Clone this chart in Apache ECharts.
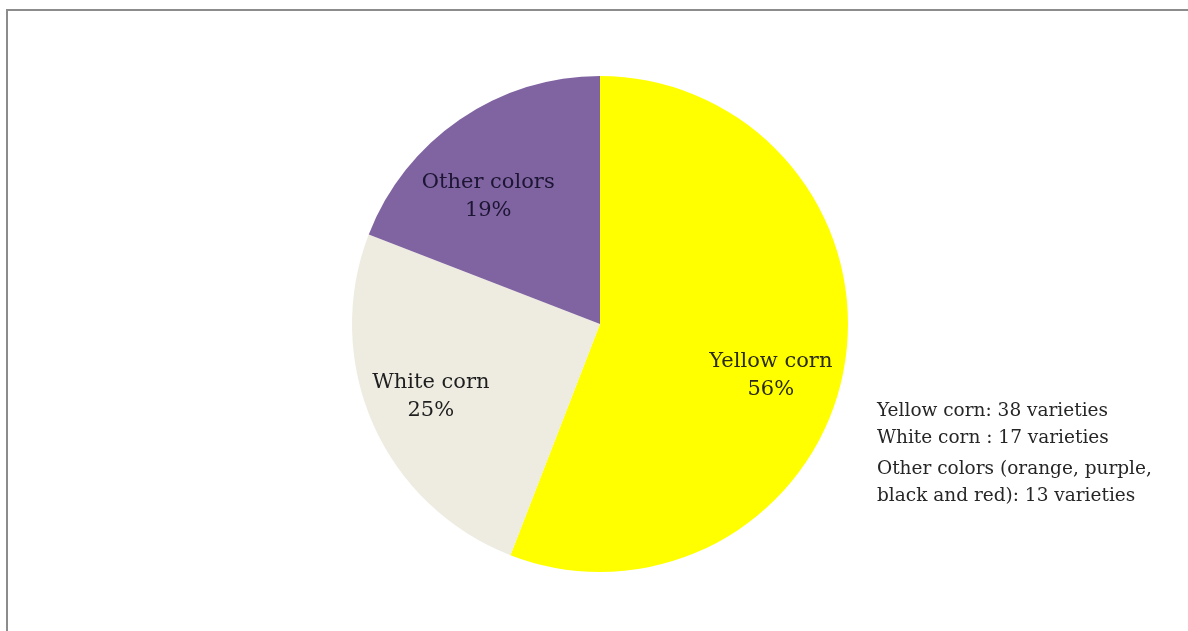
<!DOCTYPE html>
<html>
<head>
<meta charset="utf-8">
<script src="https://cdn.jsdelivr.net/npm/echarts@6/dist/echarts.min.js"></script>
<style>
  html, body { margin: 0; padding: 0; background: #ffffff; }
  #chart { width: 1188px; height: 631px; }
</style>
</head>
<body>
<div id="chart"></div>
<script>
// Corn varieties by kernel colour
const categories = ['Yellow corn', 'White corn', 'Other colors'];
const varieties = [38, 17, 13];
const sliceColors = ['#FFFF00', '#EEECE1', '#8064A2'];
const labelColors = ['#2b2b14', '#1e1e1e', '#1c1533'];
// Label nudges away from the slice mid-radius point
const labelOffsets = [[46, 28], [-53, 21], [-40, -23]];
const noteLines = [
  'Yellow corn: 38 varieties',
  'White corn : 17 varieties',
  'Other colors (orange, purple,',
  'black and red): 13 varieties'
];

const serif = '"DejaVu Serif", "Liberation Serif", serif';

const chart = echarts.init(document.getElementById('chart'), null, { renderer: 'canvas' });

const pieData = categories.map((name, i) => ({
  name: name,
  value: varieties[i],
  itemStyle: { color: sliceColors[i] },
  label: { color: labelColors[i], offset: labelOffsets[i] }
}));

chart.setOption({
  animation: false,
  backgroundColor: '#ffffff',
  graphic: [
    {
      type: 'polyline',
      shape: { points: [[7, 631], [7, 10], [1188, 10]] },
      style: { stroke: '#8c8c8c', lineWidth: 2, fill: null }
    },
    {
      type: 'text',
      left: 877,
      top: 398,
      style: {
        text: noteLines.slice(0, 2).join('\n'),
        font: '18.5px ' + serif,
        fill: '#262626',
        lineHeight: 27
      }
    },
    {
      type: 'text',
      left: 877,
      top: 456,
      style: {
        text: noteLines.slice(2).join('\n'),
        font: '18.5px ' + serif,
        fill: '#262626',
        lineHeight: 27
      }
    }
  ],
  series: [
    {
      type: 'pie',
      center: [600, 324],
      radius: [0, 248],
      startAngle: 90,
      clockwise: true,
      silent: true,
      itemStyle: { borderWidth: 0 },
      label: {
        show: true,
        position: 'inside',
        fontFamily: serif,
        fontSize: 21,
        lineHeight: 28,
        formatter: p => p.name + '\n' + Math.round(p.percent) + '%'
      },
      labelLine: { show: false },
      data: pieData
    }
  ]
});
</script>
</body>
</html>
